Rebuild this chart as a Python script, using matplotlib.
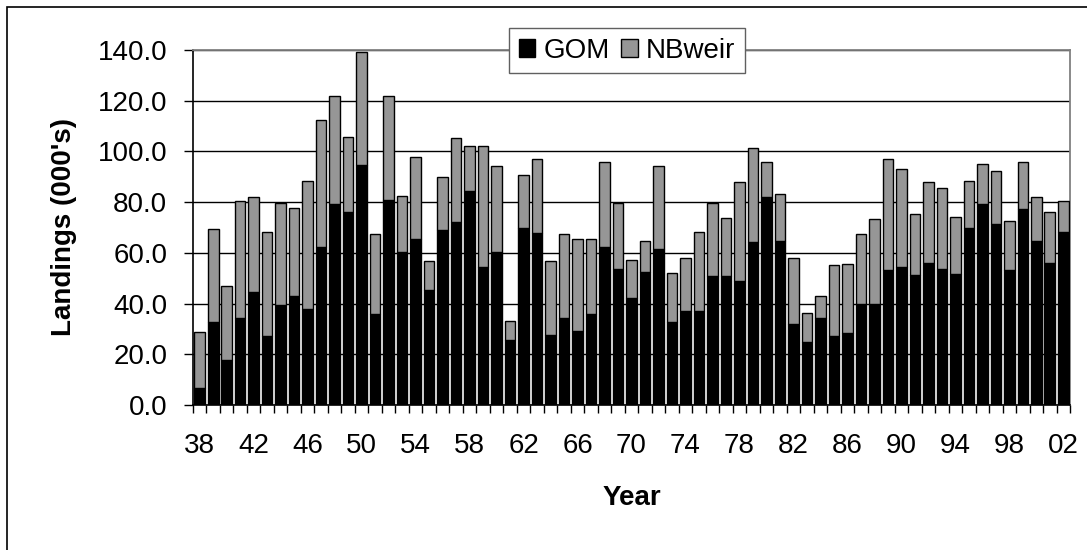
import matplotlib
matplotlib.use("Agg")
import matplotlib.pyplot as plt
from matplotlib.patches import Rectangle, Patch

plt.rcParams['font.family'] = ['Liberation Sans', 'DejaVu Sans']

# landings by year (000's)
years = list(range(1938, 2003))
gom = [6.7, 32.8, 17.6, 34.3, 44.5, 27.1, 39.3, 42.9, 38.0, 62.5,
       79.3, 76.3, 94.5, 35.8, 80.7, 60.5, 65.5, 45.3, 68.9, 72.0,
       84.3, 54.5, 60.4, 25.5, 69.9, 67.8, 27.8, 34.3, 29.2, 35.8,
       62.5, 53.8, 42.2, 52.5, 61.7, 32.8, 37.1, 37.1, 50.9, 50.9,
       48.8, 64.1, 82.2, 64.6, 32.1, 24.9, 34.3, 27.1, 28.4, 40.0,
       40.0, 53.2, 54.5, 51.1, 56.1, 53.8, 51.7, 70.0, 79.3, 71.4,
       53.2, 77.2, 64.7, 56.1, 68.4]
total = [28.8, 69.6, 47.1, 80.4, 82.0, 68.2, 79.6, 77.5, 88.4, 112.4,
         121.8, 105.8, 139.1, 67.4, 121.8, 82.6, 97.9, 56.7, 90.0, 105.1,
         102.2, 102.2, 94.2, 33.3, 90.7, 97.2, 56.7, 67.5, 65.3, 65.3,
         95.7, 79.6, 57.2, 64.5, 94.2, 52.1, 57.9, 68.2, 79.6, 73.9,
         87.8, 101.4, 95.7, 83.4, 57.9, 36.2, 42.9, 55.1, 55.8, 67.5,
         73.3, 97.2, 92.9, 75.5, 87.8, 85.7, 74.1, 88.4, 95.1, 92.1,
         72.6, 95.7, 82.1, 76.2, 80.5]
nbweir = [t - g for t, g in zip(total, gom)]
yticks = [0, 20, 40, 60, 80, 100, 120, 140]

W, H = 1087, 550
fig = plt.figure(figsize=(W/100, H/100), dpi=100)
# outer chart border (only left and top show in the picture)
fig.patches.append(Rectangle((7/W, -0.5), 2.0, 1.5 - 7/H, transform=fig.transFigure,
                             fill=False, edgecolor='black', linewidth=1.2))

ax = fig.add_axes([193/W, 1 - 405/H, (1070-193)/W, (405-50)/H])
x = list(range(len(years)))
ax.bar(x, gom, width=0.78, color='black', edgecolor='black', linewidth=1.0, zorder=3)
ax.bar(x, nbweir, bottom=gom, width=0.78, color='#969696', edgecolor='black', linewidth=1.0, zorder=3)

ax.set_xlim(-0.5, len(years) - 0.5)
ax.set_ylim(0, 140)
ax.set_yticks(yticks)
ax.set_yticklabels(["%.1f" % v for v in yticks], fontsize=20)
ax.yaxis.grid(True, color='black', linewidth=1.0, zorder=0)

# category ticks between bars, labels every 4 years
ax.set_xticks([i for i in x if i % 4 == 0])
ax.set_xticklabels(["%02d" % (years[i] % 100) for i in x if i % 4 == 0], fontsize=20)
ax.set_xticks([i - 0.5 for i in x] + [len(years) - 0.5], minor=True)
ax.tick_params(axis='x', which='major', length=0, pad=20)
ax.tick_params(axis='x', which='minor', length=6, width=1, direction='out', color='black')
ax.tick_params(axis='y', length=6.5, width=1, direction='out', pad=12)

for side in ['top', 'right']:
    ax.spines[side].set_color('#808080')
    ax.spines[side].set_linewidth(1.3)
for side in ['left', 'bottom']:
    ax.spines[side].set_color('black')
    ax.spines[side].set_linewidth(1.2)

ax.set_xlabel("Year", fontsize=20, fontweight='bold')
ax.set_ylabel("Landings (000's)", fontsize=20, fontweight='bold')
ax.xaxis.set_label_coords(0.5, (405-498)/355)
ax.xaxis.label.set_verticalalignment('center')
ax.yaxis.set_label_coords((64-193)/877, 0.5)
ax.yaxis.label.set_verticalalignment('center')

handles = [Patch(facecolor='black', edgecolor='black', label='GOM'),
           Patch(facecolor='#969696', edgecolor='black', label='NBweir')]
leg = fig.legend(handles=handles, loc='center', bbox_to_anchor=(627/W, 1 - 50.5/H),
                 ncol=2, fontsize=20, frameon=True, fancybox=False, framealpha=1,
                 handlelength=0.6, handleheight=0.6, handletextpad=0.3,
                 columnspacing=0.4, borderpad=0.35, borderaxespad=0)
leg.get_frame().set_edgecolor('#606060')
leg.get_frame().set_linewidth(1.0)

fig.savefig("out.png", dpi=100)
